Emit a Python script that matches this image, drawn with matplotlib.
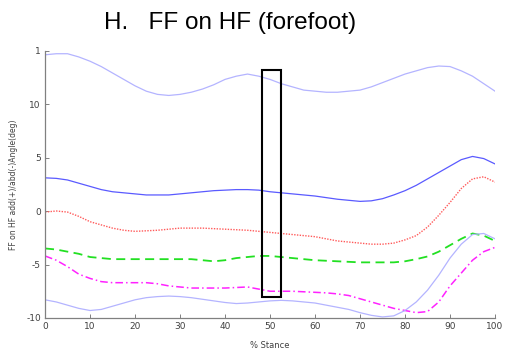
import matplotlib
matplotlib.use("Agg")
import matplotlib.pyplot as plt
from matplotlib.patches import Rectangle

# % stance sample points (every 2.5 %)
stance = [0, 2.5, 5, 7.5, 10, 12.5, 15, 17.5, 20, 22.5, 25, 27.5, 30, 32.5, 35, 37.5,
          40, 42.5, 45, 47.5, 50, 52.5, 55, 57.5, 60, 62.5, 65, 67.5, 70, 72.5, 75,
          77.5, 80, 82.5, 85, 87.5, 90, 92.5, 95, 97.5, 100]

# FF on HF add(+)/abd(-) angle (deg)
upper_band = [14.6, 14.7, 14.7, 14.4, 14.0, 13.5, 12.9, 12.3, 11.7, 11.2, 10.9, 10.8,
              10.9, 11.1, 11.4, 11.8, 12.3, 12.6, 12.8, 12.6, 12.3, 11.9, 11.6, 11.3,
              11.2, 11.1, 11.1, 11.2, 11.3, 11.6, 12.0, 12.4, 12.8, 13.1, 13.4, 13.55,
              13.5, 13.1, 12.6, 11.9, 11.2]
mean_ff = [3.1, 3.05, 2.9, 2.6, 2.3, 2.0, 1.8, 1.7, 1.6, 1.5, 1.5, 1.5, 1.6, 1.7, 1.8,
           1.9, 1.95, 2.0, 2.0, 1.95, 1.8, 1.7, 1.6, 1.5, 1.4, 1.25, 1.1, 1.0, 0.9, 0.95,
           1.15, 1.5, 1.9, 2.4, 3.0, 3.6, 4.2, 4.8, 5.1, 4.9, 4.4]
red_dotted = [-0.1, 0.0, -0.1, -0.5, -1.0, -1.3, -1.6, -1.8, -1.9, -1.85, -1.8, -1.7,
              -1.6, -1.6, -1.6, -1.65, -1.7, -1.75, -1.8, -1.9, -2.0, -2.1, -2.2, -2.3,
              -2.4, -2.6, -2.8, -2.9, -3.0, -3.1, -3.1, -3.0, -2.7, -2.3, -1.5, -0.4,
              0.8, 2.1, 3.0, 3.2, 2.7]
green_dashed = [-3.5, -3.6, -3.8, -4.0, -4.3, -4.4, -4.5, -4.5, -4.5, -4.5, -4.5, -4.5,
                -4.5, -4.5, -4.6, -4.7, -4.6, -4.4, -4.3, -4.2, -4.2, -4.3, -4.4, -4.5,
                -4.6, -4.65, -4.7, -4.75, -4.8, -4.8, -4.8, -4.8, -4.7, -4.5, -4.25,
                -3.8, -3.2, -2.6, -2.1, -2.3, -2.8]
magenta_dashdot = [-4.2, -4.6, -5.2, -5.9, -6.3, -6.6, -6.7, -6.7, -6.7, -6.7, -6.8,
                   -7.0, -7.1, -7.2, -7.2, -7.2, -7.2, -7.15, -7.1, -7.3, -7.5, -7.5,
                   -7.5, -7.55, -7.6, -7.65, -7.75, -7.9, -8.2, -8.5, -8.8, -9.1, -9.3,
                   -9.5, -9.4, -8.5, -7.0, -5.8, -4.6, -3.8, -3.4]
lower_band = [-8.3, -8.5, -8.8, -9.1, -9.3, -9.2, -8.9, -8.6, -8.3, -8.1, -8.0, -7.95,
              -8.0, -8.1, -8.25, -8.4, -8.55, -8.65, -8.6, -8.5, -8.4, -8.35, -8.4,
              -8.5, -8.6, -8.8, -9.0, -9.2, -9.5, -9.75, -9.9, -9.8, -9.3, -8.5, -7.4,
              -6.0, -4.4, -3.1, -2.2, -2.1, -2.6]

y_ticks = [-10, -5, 0, 5, 10, 15]
y_tick_labels = ["-10", "-5", "0", "5", "10", "1"]
x_ticks = [0, 10, 20, 30, 40, 50, 60, 70, 80, 90, 100]

# highlighted window (x from, x to, y from, y to)
box_x = [48.2, 52.4]
box_y = [-8.0, 13.2]

fig = plt.figure(figsize=(5.15, 3.54), dpi=100)
ax = fig.add_axes([0.0874, 0.1017, 0.8738, 0.7556])

ax.plot(stance, upper_band, color="#b4b4ff", lw=0.9)
ax.plot(stance, mean_ff, color="#5a5aff", lw=0.9)
ax.plot(stance, red_dotted, color="#ff5a5a", lw=1.0, linestyle=(0, (1, 1)))
ax.plot(stance, green_dashed, color="#22e022", lw=1.3, linestyle=(0, (5, 3)))
ax.plot(stance, magenta_dashdot, color="#ff22ff", lw=1.1, linestyle=(0, (5, 2, 1, 2)))
ax.plot(stance, lower_band, color="#b4b4ff", lw=0.9)

ax.add_patch(Rectangle((box_x[0], box_y[0]), box_x[1] - box_x[0], box_y[1] - box_y[0],
                       fill=False, edgecolor="black", lw=1.5, zorder=5))

ax.set_xlim(0, 100)
ax.set_ylim(-10, 15)
ax.set_xticks(x_ticks)
ax.set_yticks(y_ticks)
ax.set_yticklabels(y_tick_labels)

for side in ["top", "right"]:
    ax.spines[side].set_visible(False)
for side in ["left", "bottom"]:
    ax.spines[side].set_color("#808080")
    ax.spines[side].set_linewidth(0.9)

ax.tick_params(direction="in", length=3, width=0.7, color="#808080",
               labelsize=6.5, labelcolor="#404040", pad=3)

ax.set_xlabel("% Stance", fontsize=6, color="#404040", labelpad=7)
ax.set_ylabel("FF on HF add(+)/abd(-)Angle(deg)", fontsize=5.5, color="#404040", labelpad=6)

fig.text(0.447, 0.917, "H.   FF on HF (forefoot)", fontsize=17.5,
         family="Liberation Sans", ha="center", va="baseline")

fig.savefig("out.png", dpi=100)
